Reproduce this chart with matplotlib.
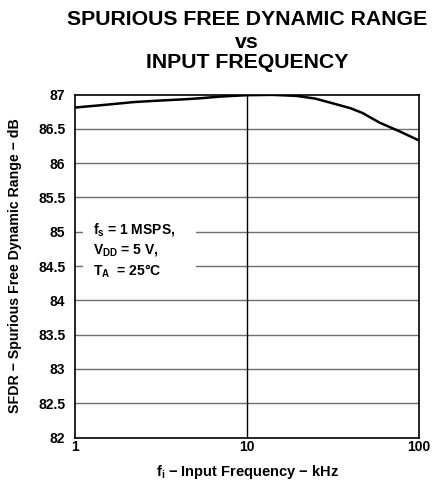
import numpy as np
import matplotlib
matplotlib.use('Agg')
import matplotlib.pyplot as plt
from matplotlib.patches import Rectangle

plt.rcParams['font.family'] = ['Liberation Sans', 'DejaVu Sans']
plt.rcParams['font.weight'] = 'bold'
plt.rcParams['mathtext.fontset'] = 'custom'
plt.rcParams['mathtext.rm'] = 'Liberation Sans:bold'
plt.rcParams['mathtext.bf'] = 'Liberation Sans:bold'
plt.rcParams['mathtext.it'] = 'Liberation Sans:bold'

# SFDR curve (kHz, dB)
freq_khz = [1, 1.5, 2.2, 3, 4.3, 5.3, 7, 8.3, 10, 14, 19.4, 25, 31.7, 40, 47, 59, 77.6, 100]
sfdr_db = [86.81, 86.85, 86.89, 86.91, 86.93, 86.945, 86.97, 86.98, 86.99, 86.995,
           86.98, 86.94, 86.87, 86.80, 86.73, 86.59, 86.46, 86.33]

y_ticks = [82, 82.5, 83, 83.5, 84, 84.5, 85, 85.5, 86, 86.5, 87]
y_labels = ['82', '82.5', '83', '83.5', '84', '84.5', '85', '85.5', '86', '86.5', '87']
x_ticks = [1, 10, 100]
x_labels = ['1', '10', '100']

fig = plt.figure(figsize=(4.35, 4.83), dpi=100)
ax = fig.add_axes([0.1724, 0.0942, 0.7908, 0.7101])

ax.set_xscale('log')
ax.set_xlim(1, 100)
ax.set_ylim(82, 87)

for yv in y_ticks[1:-1]:
    ax.axhline(yv, color='#6e6e6e', lw=1.0, zorder=1)
ax.axvline(10, color='black', lw=1.0, zorder=1)

# white panel behind the conditions text
ax.add_patch(Rectangle((1.113, 84.25), 5.05 - 1.113, 1.0, facecolor='white',
                       edgecolor='none', zorder=2))
cond = [r'$\mathbf{f_s}$ = 1 MSPS,', r'$\mathbf{V_{DD}}$ = 5 V,', r'$\mathbf{T_A}$  = 25°C']
for i, s in enumerate(cond):
    ax.text(1.27, 85.03 - i * 0.3, s, fontsize=10, fontweight='bold',
            va='center', ha='left', zorder=3)

ax.plot(freq_khz, sfdr_db, color='black', lw=1.8, zorder=4, solid_capstyle='butt')

ax.set_yticks(y_ticks)
ax.set_yticklabels(y_labels)
ax.set_xticks(x_ticks)
ax.set_xticklabels(x_labels)
ax.minorticks_off()
ax.tick_params(axis='both', length=0, labelsize=10)
ax.tick_params(axis='y', pad=7)
ax.tick_params(axis='x', pad=2)
for lab in ax.get_xticklabels() + ax.get_yticklabels():
    lab.set_fontweight('bold')
for sp in ax.spines.values():
    sp.set_linewidth(1.2)
    sp.set_zorder(5)

ax.set_xlabel(r'$\mathbf{f_i}$ − Input Frequency − kHz', fontsize=10.5,
              fontweight='bold')
ax.set_ylabel('SFDR − Spurious Free Dynamic Range − dB', fontsize=10.2,
              fontweight='bold')
ax.xaxis.set_label_coords(0.5, -0.074)
ax.yaxis.set_label_coords(-0.155, 0.5)

fig.text(0.568, 0.9586, 'SPURIOUS FREE DYNAMIC RANGE', ha='center', va='center',
         fontsize=15.3, fontweight='bold')
fig.text(0.568, 0.913, 'vs', ha='center', va='center', fontsize=15.3, fontweight='bold')
fig.text(0.568, 0.8696, 'INPUT FREQUENCY', ha='center', va='center',
         fontsize=15.3, fontweight='bold')

fig.savefig('out.png', dpi=100)
